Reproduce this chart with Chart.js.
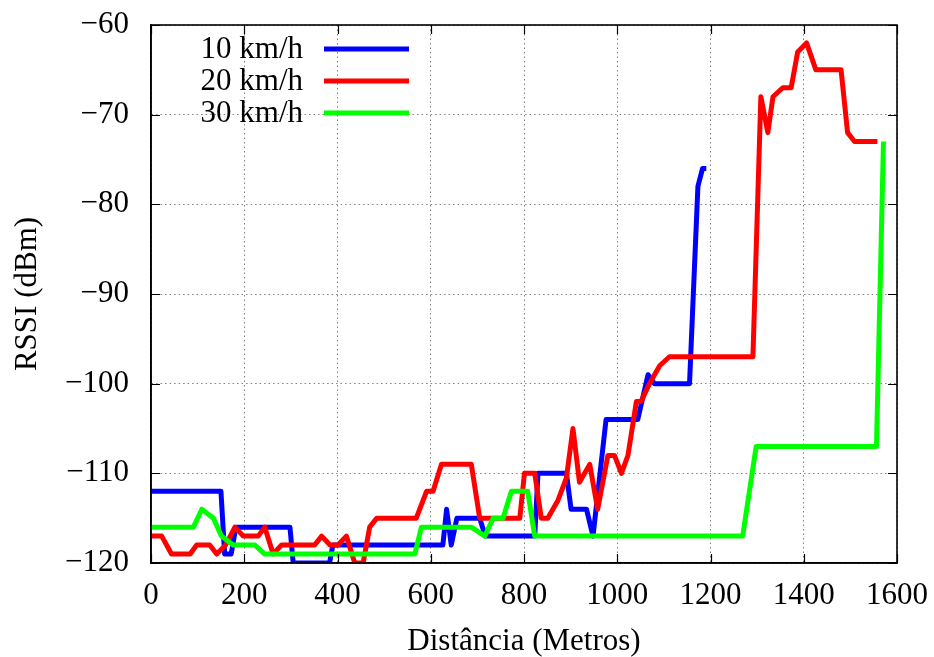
<!DOCTYPE html>
<html>
<head>
<meta charset="utf-8">
<script src="https://cdn.jsdelivr.net/npm/chart.js@4"></script>
<style>
  body { margin: 0; background: #fff; }
  #wrap { width: 934px; height: 657px; }
</style>
</head>
<body>
<div id="wrap"><canvas id="rssi-chart" width="934" height="657"></canvas></div>
<script>
// RSSI x distance, one run per speed
const seriesLabels = ['10 km/h', '20 km/h', '30 km/h'];

const dist10 = [0, 150, 158, 172, 182, 298, 305, 383, 390, 626, 634, 644, 656, 705, 717, 823, 830, 891, 901, 934,
    948, 976, 1044, 1066, 1080, 1155, 1173, 1183, 1191];
const rssi10 = [-112, -112, -119, -119, -116, -116, -120, -120, -118, -118, -114, -118, -115, -115, -117, -117, -110, -110, -114, -114,
    -117, -104, -104, -99, -100, -100, -78, -76, -76];

const dist20 = [0, 23, 44, 84, 98, 126, 141, 160, 180, 198, 230, 244, 262, 280, 351, 366, 384, 401, 419, 437,
    455, 469, 484, 569, 591, 605, 623, 687, 705, 791, 801, 823, 837, 851, 873, 891, 905, 919, 941, 958,
    980, 994, 1009, 1023, 1041, 1051, 1069, 1091, 1112, 1291, 1308, 1323, 1334, 1355, 1373, 1387, 1406, 1426, 1480, 1494,
    1509, 1558];
const rssi20 = [-117, -117, -119, -119, -118, -118, -119, -118, -116, -117, -117, -116, -119, -118, -118, -117, -118, -118, -117, -120,
    -120, -116, -115, -115, -112, -112, -109, -109, -115, -115, -110, -110, -115, -115, -113, -110.5, -105, -111, -109, -114,
    -108, -108, -110, -108, -102, -102, -100, -98, -97, -97, -68, -72, -68, -67, -67, -63, -62, -65, -65, -72,
    -73, -73];

const dist30 = [0, 91, 109, 134, 151, 176, 223, 244, 566, 580, 687, 716, 734, 755, 773, 808, 823, 1269, 1298, 1556, 1571];
const rssi30 = [-116, -116, -114, -115, -117, -118, -118, -119, -119, -116, -116, -117, -115, -115, -112, -112, -117, -117, -107, -107, -73];

const xTicks = [0, 200, 400, 600, 800, 1000, 1200, 1400, 1600];
const yTicks = [-120, -110, -100, -90, -80, -70, -60];

const FONT = "'Liberation Serif', 'Times New Roman', serif";

function toPoints(xs, ys) {
    return xs.map((x, i) => ({ x: x, y: ys[i] }));
}

// gnuplot style: ticks pointing inward on all four sides + legend on the left
const frameTicks = {
    id: 'frameTicks',
    afterDraw(chart) {
        const { ctx, chartArea: a, scales } = chart;
        const len = 9;
        ctx.save();
        ctx.strokeStyle = '#000';
        ctx.lineWidth = 1.2;
        ctx.beginPath();
        xTicks.forEach(v => {
            const px = Math.round(scales.x.getPixelForValue(v)) + 0.5;
            ctx.moveTo(px, a.bottom); ctx.lineTo(px, a.bottom - len);
            ctx.moveTo(px, a.top); ctx.lineTo(px, a.top + len);
        });
        yTicks.forEach(v => {
            const py = Math.round(scales.y.getPixelForValue(v)) + 0.5;
            ctx.moveTo(a.left, py); ctx.lineTo(a.left + len, py);
            ctx.moveTo(a.right, py); ctx.lineTo(a.right - len, py);
        });
        ctx.stroke();
        ctx.lineWidth = 1.6;
        ctx.strokeRect(a.left, a.top, a.right - a.left, a.bottom - a.top);

        // legend
        ctx.font = '31px ' + FONT;
        ctx.textAlign = 'right';
        ctx.textBaseline = 'middle';
        chart.data.datasets.forEach((ds, i) => {
            const y = a.top + 24 + i * 32;
            ctx.fillStyle = '#000';
            ctx.fillText(ds.label, a.left + 152, y + 1);
            ctx.strokeStyle = ds.borderColor;
            ctx.lineWidth = 5;
            ctx.beginPath();
            ctx.moveTo(a.left + 173, y);
            ctx.lineTo(a.left + 258, y);
            ctx.stroke();
        });
        ctx.restore();
    }
};

const chart = new Chart(document.getElementById('rssi-chart'), {
    type: 'line',
    data: {
        datasets: [
            { label: seriesLabels[0], data: toPoints(dist10, rssi10), borderColor: '#0000ff', order: 2 },
            { label: seriesLabels[1], data: toPoints(dist20, rssi20), borderColor: '#ff0000', order: 1 },
            { label: seriesLabels[2], data: toPoints(dist30, rssi30), borderColor: '#00ff00', order: 0 }
        ]
    },
    options: {
        responsive: false,
        animation: false,
        devicePixelRatio: 1,
        layout: { padding: { left: 0, right: 37, top: 25, bottom: 0 } },
        elements: {
            line: { borderWidth: 5, tension: 0, fill: false, borderJoinStyle: 'round' },
            point: { radius: 0, hoverRadius: 0 }
        },
        plugins: {
            legend: { display: false },
            tooltip: { enabled: false }
        },
        scales: {
            x: {
                type: 'linear',
                min: 0,
                max: 1600,
                afterBuildTicks: scale => { scale.ticks = xTicks.map(v => ({ value: v })); },
                afterFit: scale => {
                    scale.height = 94;
                    scale.paddingLeft = 0;
                    scale.paddingRight = 0;
                },
                ticks: {
                    color: '#000',
                    padding: 14,
                    maxRotation: 0,
                    font: { family: FONT, size: 31 },
                    callback: v => String(v)
                },
                grid: { color: '#808080', lineWidth: 1, drawTicks: false },
                border: { display: true, color: '#000', width: 1.6, dash: [1.5, 3] },
                title: {
                    display: true,
                    text: 'Distância (Metros)',
                    color: '#000',
                    font: { family: FONT, size: 31, lineHeight: 1 },
                    padding: { top: 0, bottom: 0 }
                }
            },
            y: {
                type: 'linear',
                min: -120,
                max: -60,
                afterBuildTicks: scale => { scale.ticks = yTicks.map(v => ({ value: v })); },
                afterFit: scale => {
                    scale.width = 151;
                    scale.paddingTop = 0;
                    scale.paddingBottom = 0;
                },
                ticks: {
                    color: '#000',
                    padding: 22,
                    font: { family: FONT, size: 31 },
                    callback: v => String(v).replace('-', '\u2212')
                },
                grid: { color: '#808080', lineWidth: 1, drawTicks: false },
                border: { display: true, color: '#000', width: 1.6, dash: [1.5, 3] },
                title: {
                    display: true,
                    text: 'RSSI (dBm)',
                    color: '#000',
                    font: { family: FONT, size: 31 },
                    padding: { top: 9, bottom: 0 }
                }
            }
        }
    },
    plugins: [frameTicks]
});
</script>
</body>
</html>
